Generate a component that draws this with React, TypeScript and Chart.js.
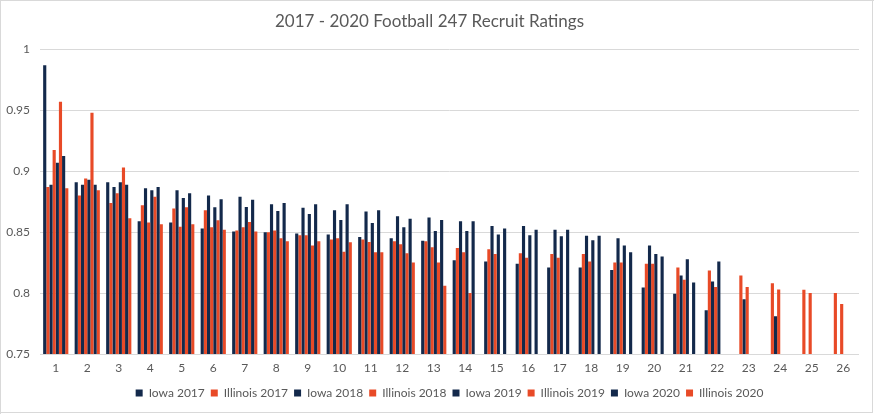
import React, { useEffect, useRef } from "react";
import { Chart, registerables } from "chart.js";

Chart.register(...registerables);

const categories = ["1","2","3","4","5","6","7","8","9","10","11","12","13","14","15","16","17","18","19","20","21","22","23","24","25","26"];

const iowa2017 = [0.987,0.891,0.891,0.859,0.858,0.853,0.8505,0.850,0.849,0.848,0.846,0.845,0.843,0.827,0.826,0.824,0.821,0.821,0.819,0.8045,0.7995,0.786,null,null,null,null];
const illinois2017 = [0.887,0.880,0.874,0.872,0.8695,0.868,0.8514,0.850,0.8475,0.844,0.844,0.8426,0.8426,0.837,0.836,0.8326,0.832,0.832,0.825,0.824,0.821,0.8186,0.8144,0.808,0.8028,0.800];
const iowa2018 = [0.889,0.889,0.887,0.886,0.8845,0.880,0.879,0.873,0.870,0.868,0.867,0.863,0.862,0.859,0.855,0.855,0.852,0.847,0.845,0.839,0.8144,0.8095,0.795,0.781,null,null];
const illinois2018 = [0.9175,0.894,0.882,0.858,0.8545,0.854,0.854,0.8514,0.8475,0.845,0.842,0.840,0.8376,0.8335,0.832,0.829,0.829,0.826,0.825,0.824,0.811,0.805,0.805,0.803,0.800,0.791];
const iowa2019 = [0.907,0.893,0.891,0.8845,0.878,0.8705,0.8707,0.8674,0.865,0.860,0.8575,0.854,0.851,0.851,0.848,0.8475,0.8467,0.8434,0.839,0.832,0.8277,0.826,null,null,null,null];
const illinois2019 = [0.957,0.948,0.903,0.879,0.8705,0.8597,0.8583,0.845,0.839,0.834,0.8335,0.8326,0.825,0.800,null,null,null,null,null,null,null,null,null,null,null,null];
const iowa2020 = [0.9125,0.889,0.889,0.887,0.882,0.877,0.8765,0.874,0.873,0.873,0.868,0.861,0.860,0.859,0.853,0.852,0.852,0.847,0.8335,0.830,0.8086,null,null,null,null,null];
const illinois2020 = [0.886,0.8845,0.8615,0.8565,0.8565,0.852,0.8505,0.8426,0.8426,0.8418,0.8335,0.825,0.806,null,null,null,null,null,null,null,null,null,null,null,null,null];

const yTicks = [0.75, 0.8, 0.85, 0.9, 0.95, 1];

const NAVY = "#13294B";
const ORANGE = "#E84A27";
const TEXT = "#595959";
const GRID = "#d9d9d9";
const FONT = "Lato, 'Open Sans', sans-serif";

export default function App() {
  const ref = useRef<HTMLCanvasElement | null>(null);

  useEffect(() => {
    document.body.style.margin = "0";
    if (!ref.current) return;
    const series = [
      { label: "Iowa 2017", data: iowa2017, color: NAVY },
      { label: "Illinois 2017", data: illinois2017, color: ORANGE },
      { label: "Iowa 2018", data: iowa2018, color: NAVY },
      { label: "Illinois 2018", data: illinois2018, color: ORANGE },
      { label: "Iowa 2019", data: iowa2019, color: NAVY },
      { label: "Illinois 2019", data: illinois2019, color: ORANGE },
      { label: "Iowa 2020", data: iowa2020, color: NAVY },
      { label: "Illinois 2020", data: illinois2020, color: ORANGE },
    ];
    const chart = new Chart(ref.current, {
      type: "bar",
      data: {
        labels: categories,
        datasets: series.map((s) => ({
          label: s.label,
          data: s.data,
          backgroundColor: s.color,
          borderWidth: 0,
          categoryPercentage: 0.8,
          barPercentage: 1.0,
        })),
      },
      options: {
        animation: false,
        responsive: false,
        maintainAspectRatio: false,
        layout: { padding: { left: 0, right: 15, top: 0, bottom: 5 } },
        plugins: {
          title: {
            display: true,
            text: "2017 - 2020 Football 247 Recruit Ratings",
            color: TEXT,
            font: { family: FONT, size: 17, weight: "normal" },
            padding: { top: 11, bottom: 18 },
          },
          legend: {
            position: "bottom",
            fullSize: false,
            labels: {
              color: TEXT,
              font: { family: FONT, size: 12 },
              boxWidth: 7,
              boxHeight: 7,
              padding: 6,
            },
          },
          tooltip: { enabled: false },
        },
        scales: {
          x: {
            grid: { display: false, drawTicks: false },
            border: { display: false },
            ticks: { color: TEXT, font: { family: FONT, size: 12 }, padding: 7 },
            afterFit: (scale: any) => {
              scale.height = 27;
            },
          },
          y: {
            min: 0.75,
            max: 1,
            afterBuildTicks: (scale: any) => {
              scale.ticks = yTicks.map((v) => ({ value: v }));
            },
            afterFit: (scale: any) => {
              scale.width = 40;
            },
            grid: { color: GRID, drawTicks: false },
            border: { display: false },
            ticks: {
              color: TEXT,
              font: { family: FONT, size: 12 },
              padding: 10,
              callback: (v: any) => String(Number(Number(v).toFixed(2))),
            },
          },
        },
      },
    });
    return () => chart.destroy();
  }, []);

  return (
    <div style={{ position: "relative", width: 874, height: 414 }}>
      <canvas ref={ref} width={874} height={414} style={{ display: "block", width: 874, height: 414 }} />
      <div
        style={{
          position: "absolute",
          left: 0,
          top: 0,
          width: 874,
          height: 414,
          boxSizing: "border-box",
          borderTop: "1px solid #d9d9d9",
          borderLeft: "1px solid #d9d9d9",
          pointerEvents: "none",
        }}
      />
      <div style={{ position: "absolute", left: 872, top: 0, width: 1, height: 413, background: "#d9d9d9" }} />
      <div style={{ position: "absolute", left: 0, top: 412, width: 873, height: 1, background: "#d9d9d9" }} />
    </div>
  );
}
